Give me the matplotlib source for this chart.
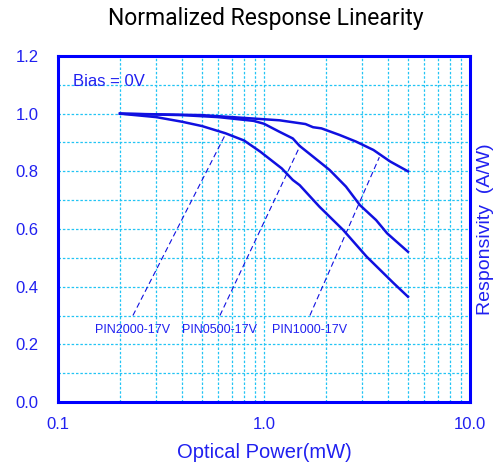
import matplotlib
matplotlib.use("Agg")
import matplotlib.pyplot as plt
from matplotlib.ticker import FixedLocator, NullFormatter, LogLocator

# Optical power (mW) and normalized responsivity for each photodiode
pin2000_power = [0.2, 0.3, 0.4, 0.5, 0.65, 0.8, 0.96, 1.22, 1.38, 1.49, 1.86, 2.42, 3.15, 4.26, 5.0]
pin2000_resp = [1.0, 0.988, 0.972, 0.957, 0.932, 0.907, 0.868, 0.81, 0.77, 0.752, 0.677, 0.597, 0.504, 0.412, 0.365]

pin0500_power = [0.2, 0.4, 0.6, 0.89, 1.0, 1.19, 1.38, 1.49, 1.73, 2.08, 2.5, 2.92, 3.5, 3.96, 5.0]
pin0500_resp = [1.0, 0.995, 0.988, 0.975, 0.965, 0.937, 0.914, 0.888, 0.851, 0.805, 0.747, 0.683, 0.631, 0.585, 0.521]

pin1000_power = [0.2, 0.5, 0.85, 1.19, 1.59, 1.73, 1.9, 2.33, 2.8, 3.4, 4.1, 5.0]
pin1000_resp = [1.0, 0.995, 0.984, 0.977, 0.964, 0.953, 0.949, 0.926, 0.903, 0.874, 0.834, 0.80]

# Callout labels: name, leader start (power, resp) at the text, leader end on the curve
callout_names = ["PIN2000-17V", "PIN0500-17V", "PIN1000-17V"]
callout_base = [(0.231, 0.30), (0.611, 0.30), (1.67, 0.30)]
callout_tip = [(0.654, 0.932), (1.50, 0.89), (3.63, 0.849)]

x_ticks = [0.1, 1.0, 10.0]
x_tick_labels = ["0.1", "1.0", "10.0"]
y_ticks = [0.0, 0.2, 0.4, 0.6, 0.8, 1.0, 1.2]
y_tick_labels = ["0.0", "0.2", "0.4", "0.6", "0.8", "1.0", "1.2"]

BLUE = "#0000ff"
LINE = "#1010e0"
TEXT = "#2020f0"
GRID = "#22c4f4"

plt.rcParams["font.family"] = ["Liberation Sans", "DejaVu Sans"]

fig = plt.figure(figsize=(4.99, 4.65), dpi=100)
ax = fig.add_axes([58 / 499, 1 - 402 / 465, 412 / 499, 346 / 465])

ax.set_xscale("log")
ax.set_xlim(0.1, 10.0)
ax.set_ylim(0.0, 1.2)

# Grid on every decade step and every 0.1 of responsivity
ax.xaxis.set_major_locator(FixedLocator(x_ticks))
ax.xaxis.set_minor_locator(LogLocator(base=10, subs=range(2, 10)))
ax.xaxis.set_minor_formatter(NullFormatter())
ax.set_xticks(x_ticks)
ax.set_xticklabels(x_tick_labels)
ax.set_yticks(y_ticks)
ax.set_yticklabels(y_tick_labels)
ax.yaxis.set_minor_locator(FixedLocator([0.1, 0.3, 0.5, 0.7, 0.9, 1.1]))
ax.grid(True, which="both", color=GRID, linestyle=(0, (2.0, 1.5)), linewidth=0.9)
ax.set_axisbelow(True)

ax.tick_params(which="both", length=0, colors=TEXT, labelsize=12)
ax.tick_params(axis="y", pad=14)
ax.tick_params(axis="x", pad=11)
for spine in ax.spines.values():
    spine.set_color(BLUE)
    spine.set_linewidth(2.2)

for xs, ys in [(pin2000_power, pin2000_resp), (pin0500_power, pin0500_resp), (pin1000_power, pin1000_resp)]:
    ax.plot(xs, ys, color=LINE, linewidth=1.8, solid_joinstyle="round")

for name, (bx, by), (tx, ty) in zip(callout_names, callout_base, callout_tip):
    ax.plot([bx, tx], [by, ty], color=LINE, linewidth=0.8, linestyle=(0, (5, 3)))
    ax.text(bx, 0.25, name, color=TEXT, fontsize=9, ha="center", va="center")

ax.text(0.118, 1.113, "Bias = 0V", color=TEXT, fontsize=12, ha="left", va="center")

ax.set_xlabel("Optical Power(mW)", color=TEXT, fontsize=14.5, labelpad=8)
ax.yaxis.set_label_position("right")
ax.set_ylabel("Responsivity  (A/W)", color=TEXT, fontsize=14, rotation=90, labelpad=5)

fig.text(266 / 499, 1 - 18 / 465, "Normalized Response Linearity", color="black",
         fontsize=16.5, ha="center", va="center", fontweight="normal",
         family=["Roboto", "Liberation Sans", "DejaVu Sans"])

fig.savefig("out.png", dpi=100)
